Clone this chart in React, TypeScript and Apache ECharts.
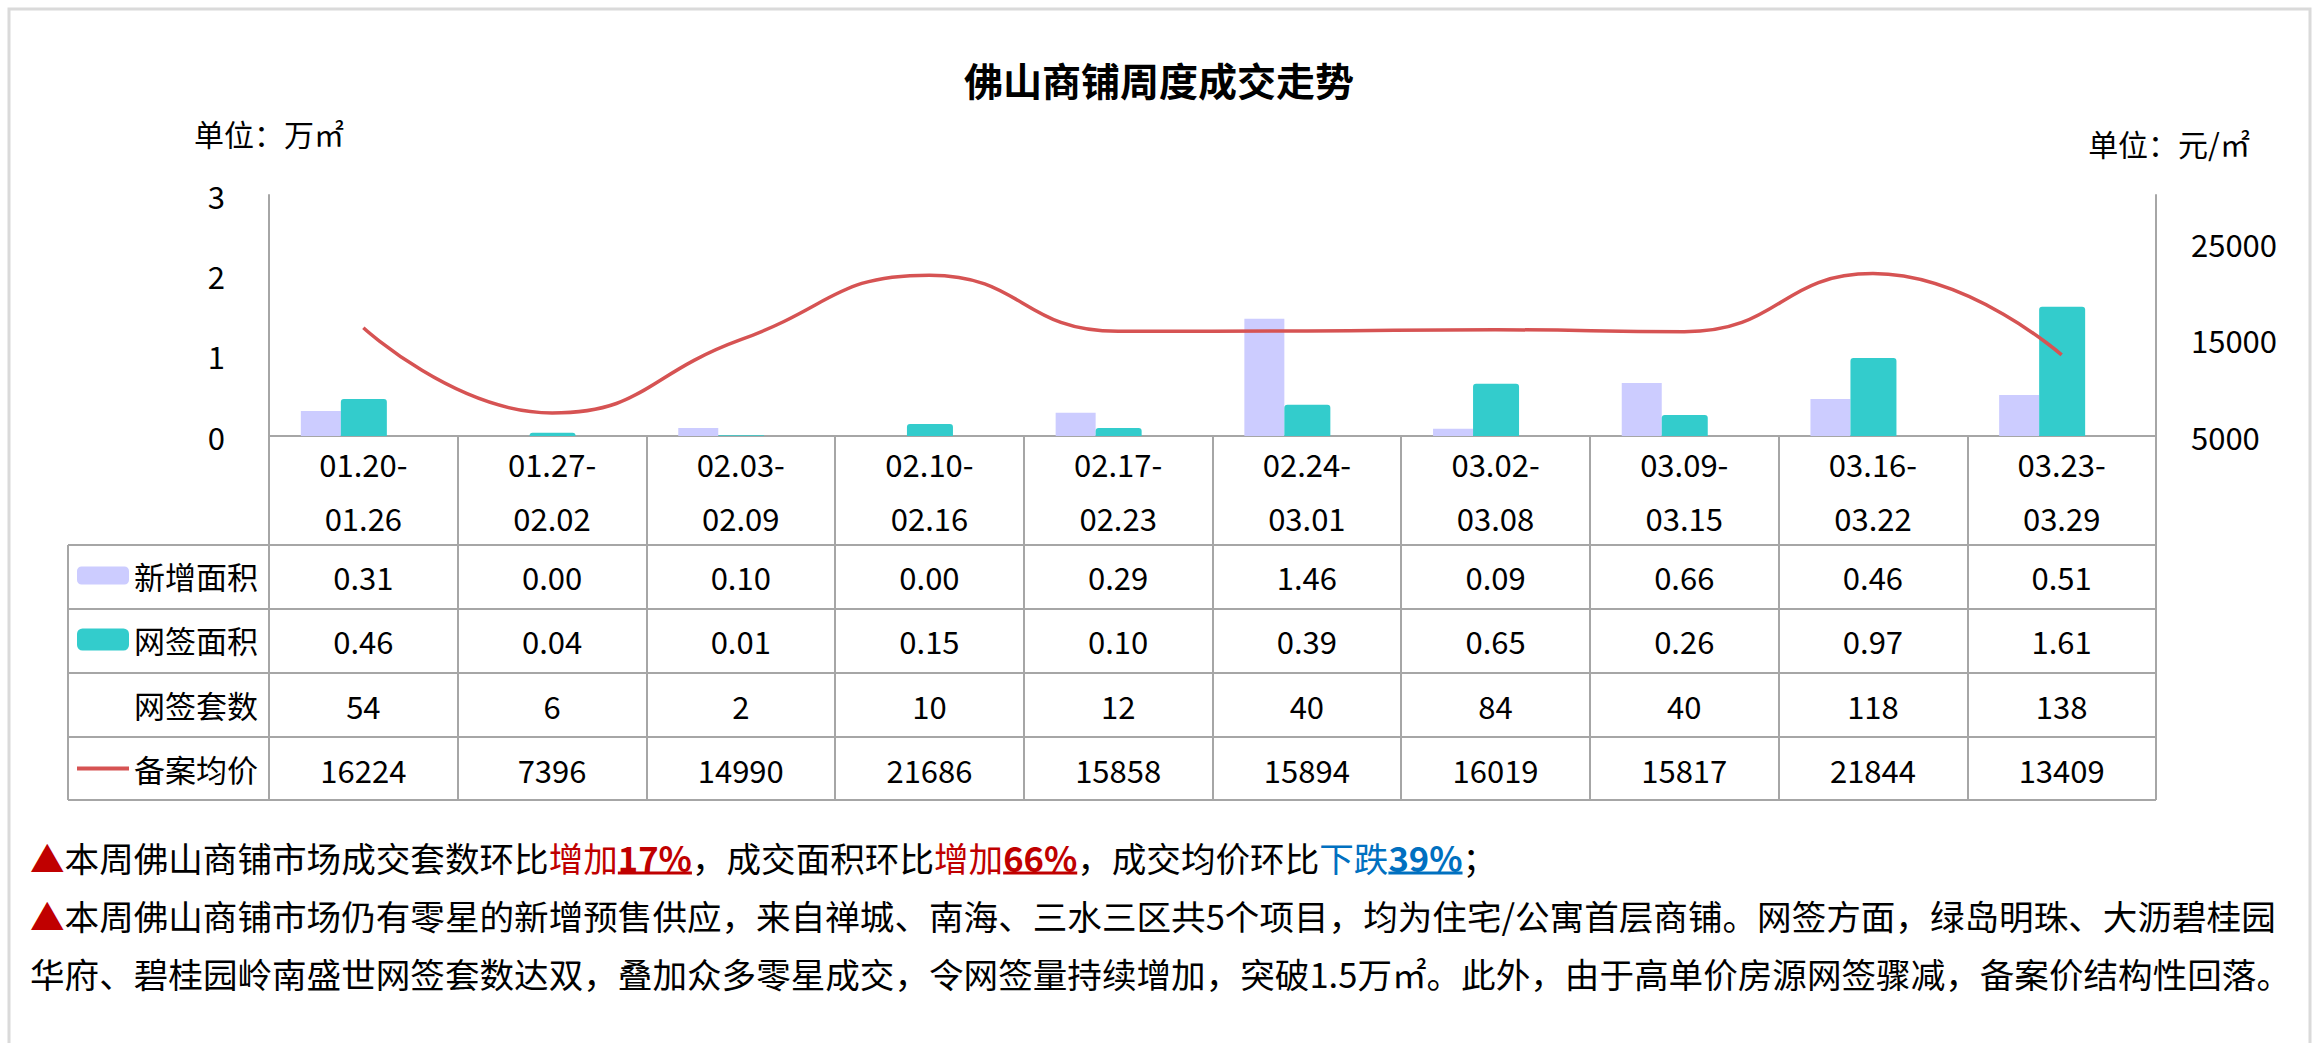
import React, { useEffect, useRef } from 'react';
import * as echarts from 'echarts';

// ---------- data ----------
const weekStarts = ['01.20', '01.27', '02.03', '02.10', '02.17', '02.24', '03.02', '03.09', '03.16', '03.23'];
const weekEnds = ['01.26', '02.02', '02.09', '02.16', '02.23', '03.01', '03.08', '03.15', '03.22', '03.29'];
const newArea = [0.31, 0.0, 0.1, 0.0, 0.29, 1.46, 0.09, 0.66, 0.46, 0.51];
const signArea = [0.46, 0.04, 0.01, 0.15, 0.1, 0.39, 0.65, 0.26, 0.97, 1.61];
const signCount = [54, 6, 2, 10, 12, 40, 84, 40, 118, 138];
const avgPrice = [16224, 7396, 14990, 21686, 15858, 15894, 16019, 15817, 21844, 13409];
const seriesNames = ['新增面积', '网签面积', '网签套数', '备案均价'];
const rightTickLabels = [5000, 15000, 25000];

const titleText = '佛山商铺周度成交走势';
const leftUnit = '单位：万㎡';
const rightUnit = '单位：元/㎡';

type Seg = { t: string; s: string; u?: boolean };
const noteLine1: Seg[] = [
  { t: '▲', s: 'red' },
  { t: '本周佛山商铺市场成交套数环比', s: 'n' },
  { t: '增加', s: 'red' },
  { t: '17%', s: 'redB', u: true },
  { t: '，成交面积环比', s: 'n' },
  { t: '增加', s: 'red' },
  { t: '66%', s: 'redB', u: true },
  { t: '，成交均价环比', s: 'n' },
  { t: '下跌', s: 'blue' },
  { t: '39%', s: 'blueB', u: true },
  { t: '；', s: 'n' },
];
const noteLine2: Seg[] = [
  { t: '▲', s: 'red' },
  { t: '本周佛山商铺市场仍有零星的新增预售供应，来自禅城、南海、三水三区共5个项目，均为住宅/公寓首层商铺。网签方面，绿岛明珠、大沥碧桂园', s: 'n' },
];
const noteLine3: Seg[] = [
  { t: '华府、碧桂园岭南盛世网签套数达双，叠加众多零星成交，令网签量持续增加，突破1.5万㎡。此外，由于高单价房源网签骤减，备案价结构性回落。', s: 'n' },
];

// ---------- style / layout ----------
const W = 2318;
const H = 1043;
const FONT = '"Noto Sans CJK SC", "Noto Sans", sans-serif';
const C_LAV = '#CCCCFF';
const C_TEAL = '#33CCCC';
const C_LINE = '#D65353';
const C_GRID = '#A6A6A6';
const C_RED = '#C00000';
const C_BLUE = '#0070C0';

const gridLeft = 269;
const gridRight = 2156;
const gridTop = 195;
const gridBottom = 436;
const tableLeft = 68;
const rowLines = [545, 609, 673, 737, 800];
const rowCenters = [576, 640, 705, 769];
const noteX = 30;
const noteYs = [857, 915, 973];
const noteFont = 34.6;

const richStyles: Record<string, any> = {
  n: { fill: '#000', fontSize: noteFont, fontFamily: FONT },
  red: { fill: C_RED, fontSize: noteFont, fontFamily: FONT },
  redB: { fill: C_RED, fontSize: noteFont, fontFamily: FONT, fontWeight: 'bold' },
  blue: { fill: C_BLUE, fontSize: noteFont, fontFamily: FONT },
  blueB: { fill: C_BLUE, fontSize: noteFont, fontFamily: FONT, fontWeight: 'bold' },
};

function measure(text: string, bold: boolean): number {
  const ctx = document.createElement('canvas').getContext('2d');
  if (!ctx) return text.length * noteFont;
  ctx.font = `normal ${bold ? 'bold' : 'normal'} ${noteFont}px ${FONT}`;
  return ctx.measureText(text).width;
}

function noteGraphics(segs: Seg[], y: number): any[] {
  const out: any[] = [];
  const text = segs.map((g) => `{${g.s}|${g.t}}`).join('');
  out.push({
    type: 'text',
    x: noteX,
    y,
    silent: true,
    style: {
      text,
      rich: richStyles,
      fontSize: noteFont,
      fontFamily: FONT,
      fill: '#000',
      verticalAlign: 'middle',
      align: 'left',
    },
  });
  let x = noteX;
  segs.forEach((g) => {
    const bold = g.s.endsWith('B');
    const w = measure(g.t, bold);
    if (g.u) {
      out.push({
        type: 'line',
        silent: true,
        shape: { x1: x, y1: y + 16, x2: x + w, y2: y + 16 },
        style: { stroke: richStyles[g.s].fill, lineWidth: 3 },
      });
    }
    x += w;
  });
  return out;
}

export default function App() {
  const ref = useRef<HTMLDivElement>(null);

  useEffect(() => {
    if (!ref.current) return;
    const chart = echarts.init(ref.current, undefined, { renderer: 'svg' });

    const rowData = [
      newArea.map((v) => v.toFixed(2)),
      signArea.map((v) => v.toFixed(2)),
      signCount.map((v) => String(v)),
      avgPrice.map((v) => String(v)),
    ];

    const legendBase = {
      orient: 'horizontal',
      left: 77,
      padding: 0,
      itemWidth: 52,
      selectedMode: false,
      textStyle: { fontSize: 31, color: '#000', fontFamily: FONT },
    };

    const graphics: any[] = [
      {
        type: 'rect',
        silent: true,
        shape: { x: 9, y: 9, width: 2301, height: 2000 },
        style: { fill: 'none', stroke: '#DADADA', lineWidth: 3 },
      },
      ...rowLines.map((y) => ({
        type: 'line',
        silent: true,
        shape: { x1: tableLeft, y1: y, x2: gridRight, y2: y },
        style: { stroke: C_GRID, lineWidth: 2 },
      })),
      {
        type: 'line',
        silent: true,
        shape: { x1: tableLeft, y1: rowLines[0], x2: tableLeft, y2: rowLines[rowLines.length - 1] },
        style: { stroke: C_GRID, lineWidth: 2 },
      },
      ...noteGraphics(noteLine1, noteYs[0]),
      ...noteGraphics(noteLine2, noteYs[1]),
      ...noteGraphics(noteLine3, noteYs[2]),
    ];

    const option: any = {
      animation: false,
      backgroundColor: '#fff',
      textStyle: { fontFamily: FONT },
      title: {
        text: titleText,
        left: 'center',
        top: 54,
        textStyle: { fontSize: 39, fontWeight: 'bold', color: '#000', fontFamily: FONT },
      },
      legend: [
        { ...legendBase, data: [seriesNames[0]], top: rowCenters[0] - 16, itemHeight: 18 },
        { ...legendBase, data: [seriesNames[1]], top: rowCenters[1] - 16, itemHeight: 22 },
        { ...legendBase, data: [seriesNames[2]], top: rowCenters[2] - 16, itemHeight: 18 },
        {
          ...legendBase,
          data: [{ name: seriesNames[3], icon: 'rect' }],
          top: rowCenters[3] - 16,
          itemHeight: 4,
        },
      ],
      grid: {
        left: gridLeft,
        right: W - gridRight,
        top: gridTop,
        bottom: H - gridBottom,
        containLabel: false,
      },
      xAxis: [
        {
          type: 'category',
          data: weekStarts.map((s, i) => `${s}-\n${weekEnds[i]}`),
          position: 'bottom',
          axisLine: { show: true, onZero: false, lineStyle: { color: C_GRID, width: 2 } },
          axisTick: {
            show: true,
            length: rowLines[rowLines.length - 1] - gridBottom,
            lineStyle: { color: C_GRID, width: 2 },
          },
          axisLabel: { interval: 0, margin: 0, fontSize: 31, lineHeight: 54, color: '#000', fontFamily: FONT },
          splitLine: { show: false },
        },
        ...rowData.map((d, i) => ({
          type: 'category',
          data: d,
          position: 'bottom',
          offset: rowCenters[i] - gridBottom - 20,
          axisLine: { show: false, onZero: false },
          axisTick: { show: false },
          splitLine: { show: false },
          axisLabel: { interval: 0, margin: 0, fontSize: 31, lineHeight: 40, color: '#000', fontFamily: FONT },
        })),
      ],
      yAxis: [
        {
          type: 'value',
          position: 'left',
          min: 0,
          max: 3,
          interval: 1,
          name: leftUnit,
          nameLocation: 'end',
          nameGap: 47,
          nameTextStyle: { fontSize: 30, color: '#000', fontFamily: FONT },
          axisLine: { show: true, lineStyle: { color: C_GRID, width: 2 } },
          axisTick: { show: false },
          splitLine: { show: false },
          axisLabel: { fontSize: 31, color: '#000', margin: 44, fontFamily: FONT },
        },
        {
          type: 'value',
          position: 'right',
          min: 5000,
          max: 30000,
          interval: 5000,
          name: rightUnit,
          nameLocation: 'end',
          nameGap: 37,
          nameTextStyle: { fontSize: 30, color: '#000', fontFamily: FONT, padding: [0, 0, 0, 26] },
          axisLine: { show: true, lineStyle: { color: C_GRID, width: 2 } },
          axisTick: { show: false },
          splitLine: { show: false },
          axisLabel: {
            fontSize: 31,
            color: '#000',
            margin: 35,
            fontFamily: FONT,
            formatter: (v: number) => (rightTickLabels.includes(v) ? String(v) : ''),
          },
        },
        { type: 'value', show: false, min: 0, max: 150 },
      ],
      series: [
        {
          name: seriesNames[0],
          type: 'bar',
          xAxisIndex: 0,
          yAxisIndex: 0,
          data: newArea,
          barWidth: 40,
          barGap: '0%',
          itemStyle: { color: C_LAV },
        },
        {
          name: seriesNames[1],
          type: 'bar',
          xAxisIndex: 0,
          yAxisIndex: 0,
          data: signArea,
          barWidth: 46,
          barGap: '0%',
          itemStyle: { color: C_TEAL, borderRadius: [3, 3, 0, 0] },
        },
        {
          name: seriesNames[2],
          type: 'bar',
          xAxisIndex: 0,
          yAxisIndex: 2,
          data: signCount,
          barWidth: 39,
          barGap: '0%',
          silent: true,
          itemStyle: { color: 'rgba(0,0,0,0)' },
        },
        {
          name: seriesNames[3],
          type: 'line',
          xAxisIndex: 0,
          yAxisIndex: 1,
          data: avgPrice,
          smooth: true,
          symbol: 'none',
          z: 5,
          lineStyle: { width: 3.5, color: C_LINE },
          itemStyle: { color: C_LINE },
        },
      ],
      graphic: graphics,
    };

    chart.setOption(option);
    return () => {
      chart.dispose();
    };
  }, []);

  return (
    <div
      ref={ref}
      style={{ position: 'absolute', left: 0, top: 0, width: W, height: H, background: '#fff' }}
    />
  );
}
